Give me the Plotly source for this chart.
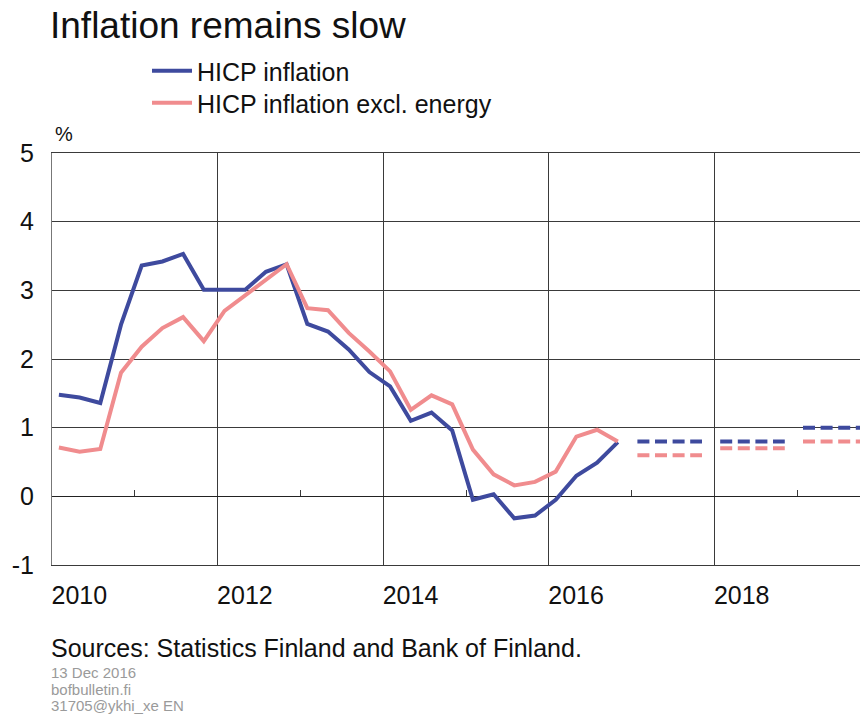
import plotly.graph_objects as go

# ---- data ----
quarters = [f"{y}Q{q}" for y in range(2010, 2017) for q in range(1, 5)]
hicp = [1.48, 1.44, 1.36, 2.50, 3.36, 3.42, 3.53, 3.01,
        3.01, 3.01, 3.27, 3.38, 2.51, 2.40, 2.14, 1.81,
        1.60, 1.10, 1.22, 0.96, -0.05, 0.03, -0.32, -0.28,
        -0.05, 0.30, 0.49, 0.79]
hicp_excl_energy = [0.71, 0.65, 0.69, 1.80, 2.18, 2.45, 2.61, 2.26,
                    2.70, 2.93, 3.15, 3.38, 2.74, 2.71, 2.38, 2.11,
                    1.82, 1.26, 1.47, 1.34, 0.68, 0.32, 0.16, 0.21,
                    0.36, 0.87, 0.97, 0.80]
forecast_years = [2017, 2018, 2019]
hicp_forecast = [0.8, 0.8, 1.0]
excl_energy_forecast = [0.6, 0.7, 0.8]
year_labels = ["2010", "2012", "2014", "2016", "2018"]
y_ticks = [-1, 0, 1, 2, 3, 4, 5]
y_labels = ["-1", "0", "1", "2", "3", "4", "5"]

BLUE = "#3E4A9E"
PINK = "#F08C8E"
FONT = "Liberation Sans, Arial, sans-serif"
GRID = "#3a3a3a"


def qpos(label):
    y, q = label.split("Q")
    return int(y) + (int(q) - 1) / 4 + 1 / 12


xq = [qpos(q) for q in quarters]

fig = go.Figure()
fig.add_trace(go.Scatter(x=xq, y=hicp, mode="lines", name="HICP inflation",
                         legend="legend",
                         line=dict(color=BLUE, width=4)))
fig.add_trace(go.Scatter(x=xq, y=hicp_excl_energy, mode="lines",
                         name="HICP inflation excl. energy", legend="legend2",
                         line=dict(color=PINK, width=4)))
for yr, vb, vp in zip(forecast_years, hicp_forecast, excl_energy_forecast):
    xs = [yr + 0.07, yr + 0.85]
    fig.add_trace(go.Scatter(x=xs, y=[vb, vb], mode="lines", showlegend=False,
                             line=dict(color=BLUE, width=4, dash="12px,5.6px")))
    fig.add_trace(go.Scatter(x=xs, y=[vp, vp], mode="lines", showlegend=False,
                             line=dict(color=PINK, width=4, dash="12px,5.6px")))

# invisible trace for minor-tick axis
fig.add_trace(go.Scatter(x=[], y=[], xaxis="x2", showlegend=False))

XR = [2010, 2010 + 808 / 82.8]
PLOT_TOP, PLOT_H = 153, 412


def py2paper(py):
    return (PLOT_TOP + PLOT_H - py) / PLOT_H


leg_common = dict(xanchor="left", yanchor="top", xref="paper", yref="paper",
                  font=dict(size=25, color="#111"), bgcolor="rgba(0,0,0,0)",
                  itemwidth=40)
fig.update_layout(
    width=860, height=715,
    margin=dict(l=52, r=0, t=153, b=150),
    paper_bgcolor="white", plot_bgcolor="white",
    font=dict(family=FONT, color="#1a1a1a"),
    title=dict(text="Inflation remains slow", font=dict(size=37, color="#111"),
               x=50 / 860, xanchor="left", xref="container",
               y=1 - 25 / 715, yanchor="middle", yref="container"),
    showlegend=True,
    legend=dict(x=(147 - 52) / 808, y=py2paper(48), **leg_common),
    legend2=dict(x=(147 - 52) / 808, y=py2paper(80), **leg_common),
    xaxis=dict(range=XR, tickvals=[int(l) + 0.33 for l in year_labels], ticktext=year_labels,
               showgrid=False, ticks="", tickfont=dict(size=25, color="#111"),
               ticklabelstandoff=8,
               showline=True, linecolor=GRID, linewidth=1, mirror=True,
               zeroline=False,
               minor=dict(tickvals=[2012, 2014, 2016, 2018], showgrid=True,
                          gridcolor=GRID, gridwidth=1, ticks="")),
    xaxis2=dict(range=XR, overlaying="x", anchor="free", position=1 / 6,
                tickvals=[2011, 2013, 2015, 2017, 2019], ticks="inside", ticklen=6,
                tickcolor=GRID, showticklabels=False, showgrid=False,
                showline=False, zeroline=False),
    yaxis=dict(range=[-1, 5], tickvals=y_ticks, ticktext=y_labels,
               showgrid=True, gridcolor=GRID, gridwidth=1,
               zeroline=True, zerolinecolor="#222", zerolinewidth=1,
               showline=True, linecolor="#777", linewidth=1,
               ticks="", ticklabelstandoff=12, tickfont=dict(size=25, color="#111")),
)

fig.add_annotation(text="%", xref="paper", yref="paper", x=0, y=1, xanchor="left",
                   yanchor="middle", xshift=1, yshift=19, showarrow=False,
                   font=dict(size=20, color="#111"))
fig.add_annotation(text="Sources: Statistics Finland and Bank of Finland.",
                   xref="paper", yref="paper", x=0, y=py2paper(648),
                   xanchor="left", yanchor="middle", showarrow=False, xshift=-3,
                   font=dict(size=25, color="#111"))
for txt, py in [("13 Dec 2016", 672), ("bofbulletin.fi", 689), ("31705@ykhi_xe EN", 705)]:
    fig.add_annotation(text=txt, xref="paper", yref="paper", x=0, y=py2paper(py),
                       xanchor="left", yanchor="middle", showarrow=False, xshift=-3,
                       font=dict(size=15, color="#9a9a9a"))

fig.write_html("out.html", config={"displayModeBar": False},
               post_script="document.body.style.margin='0';")
